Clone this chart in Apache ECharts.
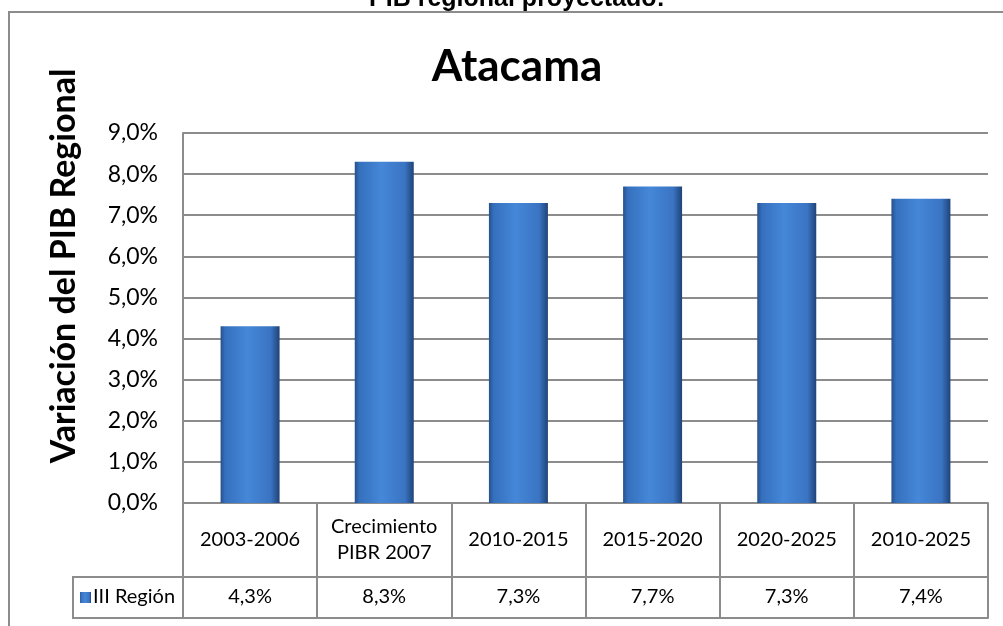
<!DOCTYPE html>
<html>
<head>
<meta charset="utf-8">
<script src="https://cdn.jsdelivr.net/npm/echarts@6/dist/echarts.min.js"></script>
<style>
  html, body { margin: 0; padding: 0; background: #ffffff; }
  #chart { width: 1003px; height: 626px; }
</style>
</head>
<body>
<div id="chart"></div>
<script>
// datos del gráfico
const periodos = ['2003-2006', 'Crecimiento\nPIBR 2007', '2010-2015', '2015-2020', '2020-2025', '2010-2025'];
const regionIII = [4.3, 8.3, 7.3, 7.7, 7.3, 7.4];
const serieNombre = 'III Región';
const ticksY = [0, 1, 2, 3, 4, 5, 6, 7, 8, 9];

const pct = v => v.toFixed(1).replace('.', ',') + '%';
const gris = '#8c8c8c';
const fuente = 'Lato, "Open Sans", sans-serif';

const barColor = new echarts.graphic.LinearGradient(0, 0, 1, 0, [
  {offset: 0, color: '#27508c'},
  {offset: 0.08, color: '#3570bd'},
  {offset: 0.45, color: '#4587d8'},
  {offset: 0.85, color: '#3a74c2'},
  {offset: 1, color: '#1f4378'}
]);

let chart = echarts.init(document.getElementById('chart'));
let option = {
  backgroundColor: '#ffffff',
  animation: false,
  title: [
    {
      text: 'PIB regional proyectado:',
      left: 512,
      textAlign: 'center',
      top: -18,
      textStyle: {fontFamily: '"Liberation Sans", Arial, sans-serif', fontSize: 25, fontWeight: 'bold', color: '#000'}
    },
    {
      text: 'Atacama',
      left: 512,
      textAlign: 'center',
      top: 40,
      textStyle: {fontFamily: fuente, fontSize: 44, fontWeight: 'bold', color: '#000'}
    }
  ],
  grid: {left: 183, right: 15, top: 133, bottom: 123},
  xAxis: [
    {
      type: 'category',
      data: periodos,
      position: 'bottom',
      axisLine: {show: true, lineStyle: {color: gris, width: 2}},
      axisTick: {show: true, interval: 0, length: 115, lineStyle: {color: gris, width: 2}},
      axisLabel: {
        interval: 0, margin: 37, verticalAlign: 'middle', lineHeight: 26,
        fontFamily: fuente, fontSize: 20, color: '#000'
      }
    },
    {
      type: 'category',
      data: regionIII.map(pct),
      position: 'bottom',
      offset: 74,
      axisLine: {show: true, lineStyle: {color: gris, width: 2}},
      axisTick: {show: false},
      axisLabel: {
        interval: 0, margin: 20, verticalAlign: 'middle',
        fontFamily: fuente, fontSize: 20, color: '#000'
      }
    },
    {
      type: 'category',
      data: periodos,
      position: 'bottom',
      offset: 115,
      axisLine: {show: true, lineStyle: {color: gris, width: 2}},
      axisTick: {show: false},
      axisLabel: {show: false}
    }
  ],
  yAxis: {
    type: 'value',
    min: ticksY[0],
    max: ticksY[ticksY.length - 1],
    interval: 1,
    name: 'Variación del PIB Regional',
    nameLocation: 'middle',
    nameRotate: 90,
    nameGap: 102,
    nameTextStyle: {fontFamily: fuente, fontSize: 34, fontWeight: 'bold', color: '#000', padding: [0, 0, 0, 104]},
    axisLine: {show: true, lineStyle: {color: gris, width: 2}},
    axisTick: {show: false},
    splitLine: {show: true, lineStyle: {color: gris, width: 2}},
    axisLabel: {
      margin: 25,
      fontFamily: fuente, fontSize: 23, color: '#000',
      formatter: v => pct(v)
    }
  },
  series: [
    {
      name: serieNombre,
      type: 'bar',
      xAxisIndex: 0,
      data: regionIII,
      barWidth: 59,
      itemStyle: {color: barColor}
    }
  ],
  graphic: [
    {
      type: 'rect',
      z: -1,
      shape: {x: 9, y: 12, width: 1100, height: 700},
      style: {fill: 'none', stroke: gris, lineWidth: 2}
    },
    {
      type: 'rect',
      shape: {x: 73, y: 577, width: 110, height: 41},
      style: {fill: 'none', stroke: gris, lineWidth: 2}
    },
    {
      type: 'rect',
      shape: {x: 80, y: 592, width: 11, height: 11},
      style: {fill: barColor}
    },
    {
      type: 'text',
      x: 93, y: 597,
      style: {text: serieNombre, fontFamily: fuente, fontSize: 20, fill: '#000', verticalAlign: 'middle'}
    }
  ]
};
chart.setOption(option);
</script>
</body>
</html>
